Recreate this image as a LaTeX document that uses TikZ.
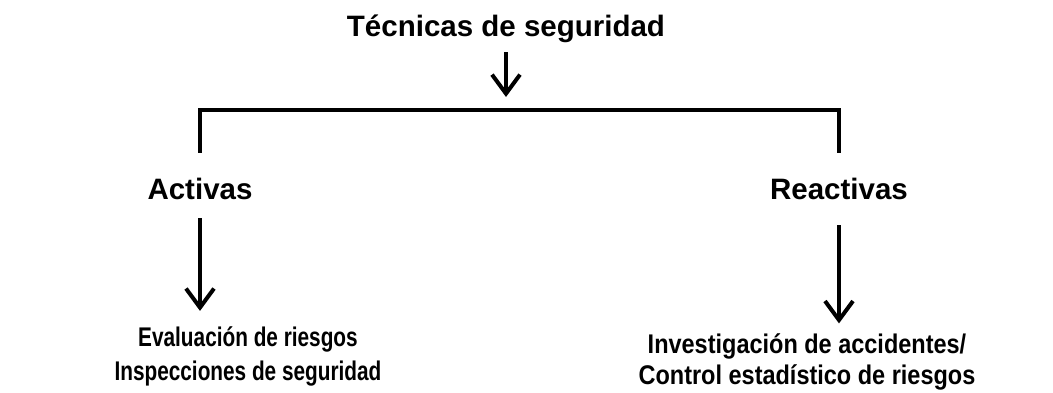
\documentclass[tikz,border=0pt]{standalone}
\usepackage{fontspec}
\setmainfont{Liberation Sans}
\newfontfamily\estrechaizq[FakeStretch=0.77]{Liberation Sans}
\newfontfamily\estrechader[FakeStretch=0.87]{Liberation Sans}
\usetikzlibrary{positioning,arrows.meta}

\begin{document}
\begin{tikzpicture}[x=1pt,y=-1pt,line width=4pt,
	titulo/.style={font=\fontsize{29.5}{34}\selectfont\bfseries},
	lista/.style={align=center},
	flecha/.style={-{Straight Barb[length=19pt,width=28pt]}}]
				\useasboundingbox (0,0) rectangle (1053,392);
				\node[titulo](tec) at (506,29)      {Técnicas de seguridad};
				\node[titulo](activas) at (200,189)  {Activas};
				\node[titulo](reactivas) at (839,189) {Reactivas};
				\node[lista,font=\estrechaizq\fontsize{27}{34}\selectfont\bfseries](evalua) at (248,356)   {Evaluación de riesgos\\Inspecciones de seguridad};
				\node[lista,font=\estrechader\fontsize{27}{31}\selectfont\bfseries](investiga) at (807,362) {Investigación de accidentes/\\Control estadístico de riesgos};
				\coordinate(cruce) at (506,110);
				\coordinate(punta) at (506,97);
			 	\draw[flecha,shorten <=4pt](tec.south) -- (punta);
			 	\draw[shorten <=20pt,shorten >=20pt](activas.north) |- (cruce) -| (reactivas.north);
			 	\draw[flecha,shorten <=13pt,shorten >=10pt](activas.south) -- (activas.south |- evalua.north);
			 	\draw[flecha,shorten <=20pt,shorten >=5pt](reactivas.south) -- (reactivas.south |- investiga.north);
			\end{tikzpicture}
\end{document}
